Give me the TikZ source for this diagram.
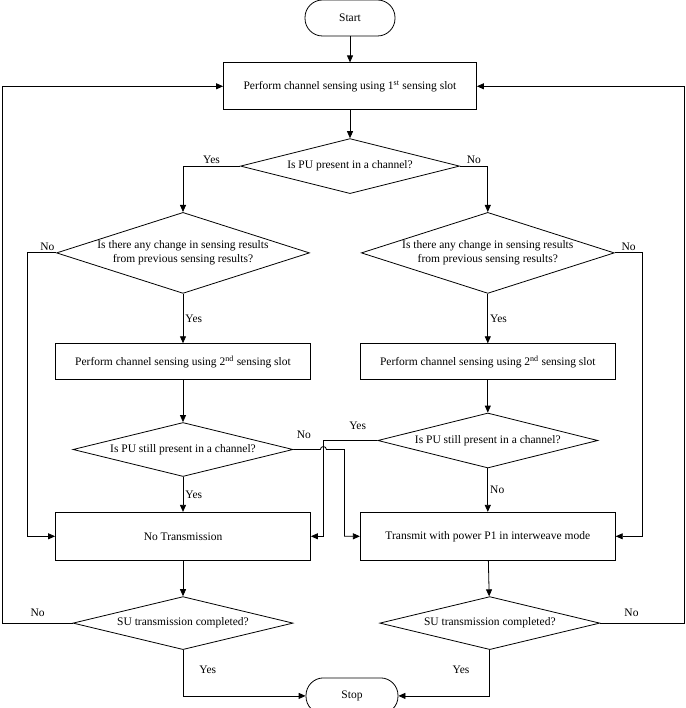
\documentclass[tikz,border=0pt]{standalone}
\usepackage{fontspec}
\setmainfont{Liberation Serif}
\usetikzlibrary{arrows.meta,positioning,shapes.geometric}

\begin{document}
\begin{tikzpicture}[x=1pt, y=1pt, font=\fontsize{11.5}{13.5}\selectfont, >={Triangle[length=7pt,width=6pt]}, line width=0.8pt,
term/.style={draw, rounded corners=17.5pt, minimum width=90pt, minimum height=36pt},
proc/.style={draw, minimum width=255pt, minimum height=36pt},
dec/.style={draw, diamond, aspect=4, inner sep=0pt, align=center, minimum width=220pt, minimum height=54pt},
lbl/.style={inner sep=2pt}]
\useasboundingbox (0,0) rectangle (685,-708);
\node[term] (start) at (350,-18) {Start};
\node[proc, minimum width=253pt, minimum height=47pt, below=26pt of start] (sense1) {Perform channel sensing using 1\textsuperscript{st} sensing slot};
\node[dec, minimum width=219pt, minimum height=55pt, below=28pt of sense1] (pu1) {Is PU present in a channel?};
\node[dec, aspect=3.1, minimum width=253pt, minimum height=81pt, below=18pt of pu1, xshift=-167pt] (chgL) {Is there any change in sensing results\\from previous sensing results?};
\node[dec, aspect=3.1, minimum width=253pt, minimum height=81pt, right=51pt of chgL] (chgR) {Is there any change in sensing results\\from previous sensing results?};
\node[proc, below=49.5pt of chgL] (sense2L) {Perform channel sensing using 2\textsuperscript{nd} sensing slot};
\node[proc, right=49pt of sense2L] (sense2R) {Perform channel sensing using 2\textsuperscript{nd} sensing slot};
\node[dec, below=42pt of sense2L] (stillL) {Is PU still present in a channel?};
\node[dec, minimum height=55pt, below=32.5pt of sense2R] (stillR) {Is PU still present in a channel?};
\node[proc, minimum height=48pt, below=35pt of stillL] (noTx) {No Transmission};
\node[proc, minimum height=48pt, right=49pt of noTx] (tx) {Transmit with power P1 in interweave mode};
\node[dec, minimum height=53pt, below=35.5pt of noTx] (doneL) {SU transmission completed?};
\node[dec, minimum height=53pt, right=86pt of doneL] (doneR) {SU transmission completed?};
\coordinate (stopTop) at (doneL.south -| start);
\node[term, minimum width=92pt, anchor=north] (stop) at ([xshift=2pt, yshift=-27.5pt]stopTop) {Stop};
% crossing points between the two columns
\coordinate (hopR) at ([xshift=12.5pt]noTx.east);
\coordinate (hopL) at ([xshift=-15.5pt]tx.west);
% main line
\draw[->] (start) -- (sense1);
\draw[->] (sense1) -- (pu1);
\draw[->] (pu1.west) -| node[lbl, pos=0.25, above]{Yes} (chgL.north);
\draw[->] (pu1.east) -| node[lbl, pos=0.25, above]{No} (chgR.north);
% left column
\draw[->] (chgL.west) -- ++(-29pt,0) node[lbl, pos=0.3, above]{No} |- (noTx.west);
\draw[->] (chgL.south) -- node[lbl, right]{Yes} (sense2L.north);
\draw[->] (sense2L) -- (stillL);
\draw[->] (stillL.south) -- node[lbl, right]{Yes} (noTx.north);
\draw[->] (stillL.east) node[lbl, anchor=south west, xshift=1pt, yshift=8pt]{No} -- ([xshift=-3pt]hopR |- stillL.east) arc[start angle=180, end angle=0, radius=3pt] -- (hopL |- stillL.east) |- (tx.west);
\draw[->] (noTx) -- (doneL);
\draw[->] (doneL.west) -- ++(-70pt,0) node[lbl, midway, above=4pt]{No} |- (sense1.west);
\draw[->] (doneL.south) |- node[lbl, pos=0.22, right=14pt]{Yes} (stop.west);
% right column
\draw[->] (chgR.east) -- ++(28pt,0) node[lbl, pos=0.5, above]{No} |- (tx.east);
\draw[->] (chgR.south) -- node[lbl, right]{Yes} (sense2R.north);
\draw[->] (sense2R) -- (stillR);
\draw[->] (stillR.south) -- node[lbl, right]{No} (tx.north);
\draw[->] (stillR.west) node[lbl, anchor=south east, xshift=-9pt, yshift=8pt]{Yes} -- (hopR |- stillR.west) |- (noTx.east);
\draw[->] (tx) -- (doneR);
\draw[->] (doneR.east) -- ++(84.5pt,0) node[lbl, pos=0.37, above=4pt]{No} |- (sense1.east);
\draw[->] (doneR.south) |- node[lbl, pos=0.22, left=18pt]{Yes} (stop.east);
\end{tikzpicture}
\end{document}
